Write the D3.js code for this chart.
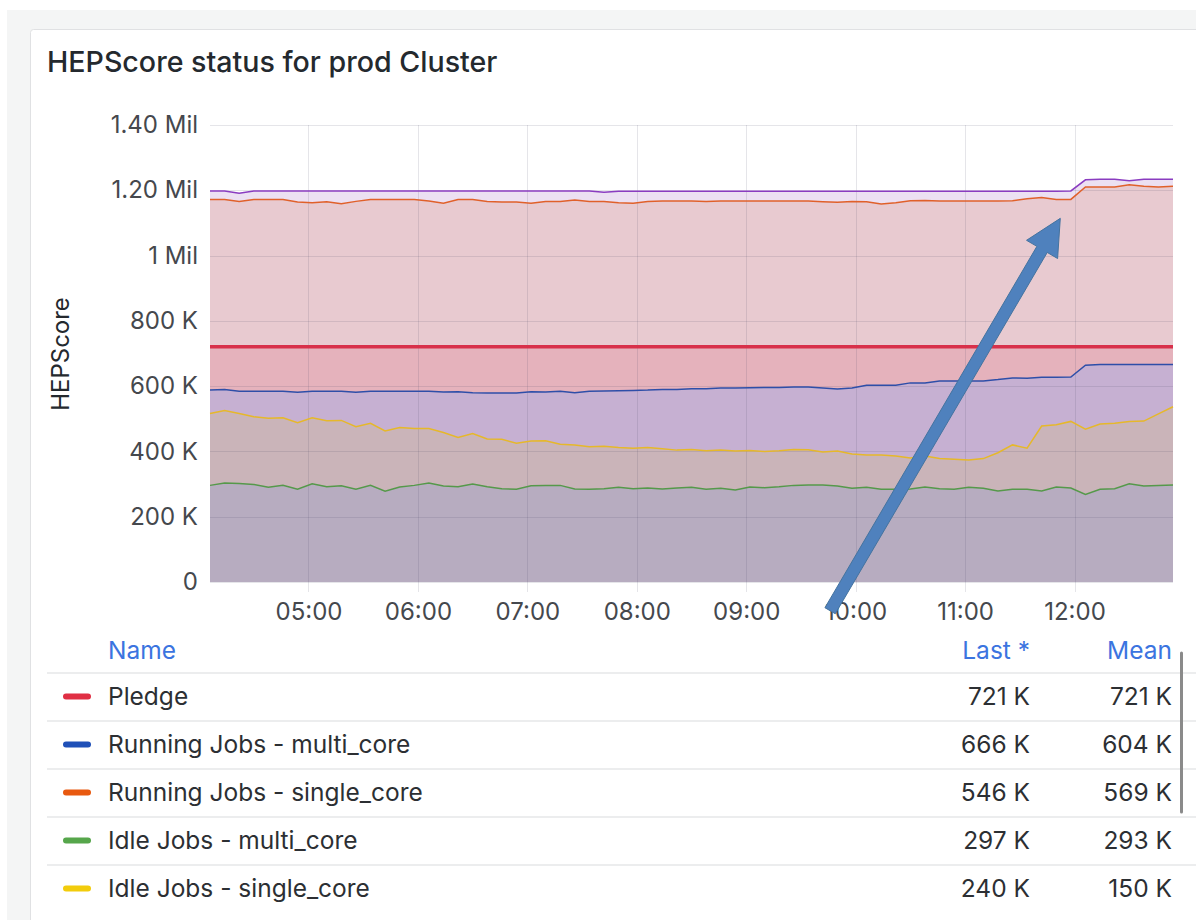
<!DOCTYPE html>
<html>
<head>
<meta charset="utf-8">
<script src="https://cdn.jsdelivr.net/npm/d3@7"></script>
<style>
  body { margin: 0; background: #fff; font-family: Inter, "Noto Sans", sans-serif; }
  svg text { font-family: Inter, "Noto Sans", sans-serif; }
</style>
</head>
<body>
<script>
// samples every 8 minutes starting at 04:06, values in K (HEPScore)
var startTime = new Date(2024, 0, 1, 4, 6);
var stepMinutes = 8;

var idleMulti = [296, 303, 302, 299, 290, 296, 284, 301, 292, 295, 284, 296, 278, 291, 296, 303,
  294, 292, 300, 292, 286, 284, 295, 296, 296, 285, 284, 286, 290, 286, 288, 285, 288, 290, 284,
  287, 282, 291, 289, 292, 296, 297, 297, 294, 287, 290, 284, 284, 285, 291, 286, 284, 290, 287,
  279, 284, 284, 279, 291, 288, 268, 284, 286, 301, 294, 296, 297];

var idleSingle = [220, 222, 214, 207, 212, 207, 204, 202, 202, 200, 192, 190, 185, 182, 174, 167,
  164, 151, 155, 146, 151, 141, 137, 137, 126, 135, 130, 130, 122, 124, 124, 123, 116, 116, 118,
  117, 119, 112, 111, 110, 110, 108, 101, 107, 105, 99, 105, 102, 95, 95, 92, 92, 84, 91,
  117, 136, 126, 199, 191, 204, 200, 200, 200, 191, 199, 219, 240];

var runningMulti = [588, 590, 584, 584, 584, 584, 581, 584, 584, 584, 581, 584, 584, 584, 584, 584,
  582, 583, 580, 579, 579, 579, 583, 582, 584, 580, 584, 585, 586, 587, 588, 590, 590, 592, 592,
  594, 594, 595, 596, 596, 597, 597, 594, 591, 594, 603, 603, 603, 610, 610, 616, 616, 616, 616,
  620, 625, 624, 627, 627, 628, 664, 666, 666, 666, 666, 666, 666];

var runningSingle = [584, 582, 582, 588, 588, 588, 583, 578, 581, 575, 585, 588, 588, 588, 588, 583,
  578, 589, 592, 587, 585, 585, 577, 584, 582, 590, 582, 581, 576, 573, 578, 577, 577, 575, 574,
  573, 573, 572, 571, 571, 570, 570, 571, 572, 572, 562, 555, 559, 558, 559, 551, 551, 551, 551,
  547, 543, 550, 551, 545, 544, 546, 544, 544, 551, 546, 544, 546];

// series hidden below the legend scroll (purple line on top of the stack)
var otherRunning = [26, 26, 25, 26, 26, 26, 34, 36, 33, 39, 32, 26, 26, 26, 26, 31,
  38, 26, 26, 32, 34, 34, 38, 32, 32, 28, 32, 28, 35, 37, 31, 30, 30, 30, 31,
  30, 30, 30, 30, 30, 30, 30, 32, 34, 31, 32, 39, 35, 29, 28, 30, 30, 30, 30,
  30, 29, 23, 19, 25, 26, 22, 24, 24, 12, 22, 24, 22];

var pledgeValue = 721;

var yTicks = [0, 200, 400, 600, 800, 1000, 1200, 1400];
var yTickLabels = ["0", "200 K", "400 K", "600 K", "800 K", "1 Mil", "1.20 Mil", "1.40 Mil"];

var legendNames = ["Pledge", "Running Jobs - multi_core", "Running Jobs - single_core",
  "Idle Jobs - multi_core", "Idle Jobs - single_core"];
var legendColors = ["#e02f44", "#1f50b8", "#e8590f", "#56a64b", "#f2cc0c"];
var legendLast = ["721 K", "666 K", "546 K", "297 K", "240 K"];
var legendMean = ["721 K", "604 K", "569 K", "293 K", "150 K"];

// annotation arrow (time, value)
var arrowFrom = {time: new Date(2024, 0, 1, 9, 46, 0), value: -88};
var arrowTo = {time: new Date(2024, 0, 1, 11, 52, 12), value: 1114};

var W = 1196, H = 920;
var plot = {left: 210, right: 1173, top: 125, bottom: 582};

var rows = idleMulti.map(function(v, i) {
  return {
    time: new Date(+startTime + i * stepMinutes * 60000),
    idleMulti: v,
    idleSingle: idleSingle[i],
    runningMulti: runningMulti[i],
    runningSingle: runningSingle[i],
    otherRunning: otherRunning[i]
  };
});

var x = d3.scaleTime()
  .domain([new Date(2024, 0, 1, 4, 6), new Date(2024, 0, 1, 12, 54)])
  .range([plot.left, plot.right]);
var y = d3.scaleLinear()
  .domain([0, 1400])
  .range([plot.bottom, plot.top]);

var idleStack = d3.stack().keys(["idleMulti", "idleSingle"])(rows);
var runStack = d3.stack().keys(["runningMulti", "runningSingle", "otherRunning"])(rows);

var svg = d3.select("body").append("svg")
  .attr("width", W)
  .attr("height", H);

// page + panel background
svg.append("rect").attr("x", 7).attr("y", 10).attr("width", W).attr("height", H)
  .attr("fill", "#f4f5f5");
svg.append("rect").attr("x", 30.5).attr("y", 29.5).attr("width", W).attr("height", H)
  .attr("rx", 3).attr("fill", "#fff").attr("stroke", "#e0e1e3");

svg.append("text")
  .attr("x", 47).attr("y", 72)
  .attr("font-size", 28.6).attr("font-weight", 500).attr("fill", "#24292e")
  .text("HEPScore status for prod Cluster");

// filled bands
function band(layer, lo, hi) {
  return d3.area()
    .x(function(d) { return x(d.data.time); })
    .y0(lo ? lo : function(d) { return y(d[0]); })
    .y1(hi ? hi : function(d) { return y(d[1]); })(layer);
}
var pledgeY = function() { return y(pledgeValue); };

var bands = svg.append("g");
bands.append("path").attr("d", band(runStack[0])).attr("fill", "#c6b0d2");
bands.append("path").attr("d", band(idleStack[1])).attr("fill", "#cab4b9");
bands.append("path").attr("d", band(idleStack[0])).attr("fill", "#b7acc0");
bands.append("path").attr("d", band(runStack[0], function(d) { return y(d[1]); }, pledgeY)).attr("fill", "#e5b2bc");
bands.append("path").attr("d", band(runStack[1], pledgeY, null)).attr("fill", "#e8cad0");
bands.append("path").attr("d", band(runStack[2])).attr("fill", "#ece0f2");

// grid
var grid = svg.append("g").attr("stroke", "rgba(70,70,100,0.14)").attr("stroke-width", 1);
grid.selectAll(".h").data(yTicks).enter().append("line")
  .attr("x1", plot.left).attr("x2", plot.right)
  .attr("y1", function(d) { return Math.round(y(d)) + 0.5; })
  .attr("y2", function(d) { return Math.round(y(d)) + 0.5; });
var hourTicks = x.ticks(d3.timeHour.every(1));
grid.selectAll(".v").data(hourTicks).enter().append("line")
  .attr("y1", plot.top).attr("y2", plot.bottom + 10)
  .attr("x1", function(d) { return Math.round(x(d)) + 0.5; })
  .attr("x2", function(d) { return Math.round(x(d)) + 0.5; });

// series lines
function topLine(layer) {
  return d3.line()
    .x(function(d) { return x(d.data.time); })
    .y(function(d) { return y(d[1]); })(layer);
}
var lines = svg.append("g").attr("fill", "none").attr("stroke-width", 1.5);
lines.append("path").attr("d", topLine(idleStack[0])).attr("stroke", "#55994a");
lines.append("path").attr("d", topLine(idleStack[1])).attr("stroke", "#e6b82a");
lines.append("path").attr("d", topLine(runStack[0])).attr("stroke", "#2e4ea8");
lines.append("path").attr("d", topLine(runStack[1])).attr("stroke", "#e0602a");
lines.append("path").attr("d", topLine(runStack[2])).attr("stroke", "#8a3cc0");
lines.append("line")
  .attr("x1", plot.left).attr("x2", plot.right)
  .attr("y1", y(pledgeValue)).attr("y2", y(pledgeValue))
  .attr("stroke", "#d8304a").attr("stroke-width", 3.5);

// axes
var yAxis = svg.append("g")
  .attr("transform", "translate(" + plot.left + ",0)")
  .call(d3.axisLeft(y).tickValues(yTicks).tickSize(0).tickPadding(12)
    .tickFormat(function(d, i) { return yTickLabels[i]; }));
var xAxis = svg.append("g")
  .attr("transform", "translate(0," + plot.bottom + ")")
  .call(d3.axisBottom(x).ticks(d3.timeHour.every(1)).tickSize(0).tickPadding(21)
    .tickFormat(d3.timeFormat("%H:%M")));
[yAxis, xAxis].forEach(function(a) {
  a.select(".domain").remove();
  a.selectAll("text").attr("font-size", 24).attr("fill", "#45484d")
    .style("font-family", "Inter, sans-serif");
});

svg.append("text")
  .attr("transform", "translate(61,354) rotate(-90)")
  .attr("text-anchor", "middle").attr("dy", "0.35em")
  .attr("font-size", 24).attr("fill", "#24292e")
  .text("HEPScore");

// legend table
var fs = 24.5;
var legend = svg.append("g");
var headY = 650, rowY = 696.5, rowStep = 48;
legend.append("text").attr("x", 108).attr("y", headY).attr("dy", "0.35em")
  .attr("font-size", fs).attr("fill", "#3b74e0").text("Name");
legend.append("text").attr("x", 1030).attr("y", headY).attr("dy", "0.35em")
  .attr("text-anchor", "end").attr("font-size", fs).attr("fill", "#3b74e0").text("Last *");
legend.append("text").attr("x", 1172).attr("y", headY).attr("dy", "0.35em")
  .attr("text-anchor", "end").attr("font-size", fs).attr("fill", "#3b74e0").text("Mean");

var row = legend.selectAll(".row").data(legendNames).enter().append("g")
  .attr("transform", function(d, i) { return "translate(0," + (rowY + i * rowStep) + ")"; });
row.append("line")
  .attr("x1", 47).attr("x2", W).attr("y1", -23.5).attr("y2", -23.5)
  .attr("stroke", "#e6e7e9").attr("stroke-width", 1.5);
row.append("line")
  .attr("x1", 66).attr("x2", 88).attr("y1", 0).attr("y2", 0)
  .attr("stroke", function(d, i) { return legendColors[i]; })
  .attr("stroke-width", 6).attr("stroke-linecap", "round");
row.append("text").attr("x", 108).attr("dy", "0.35em")
  .attr("font-size", fs).attr("fill", "#2c2f33").text(function(d) { return d; });
row.append("text").attr("x", 1030).attr("dy", "0.35em").attr("text-anchor", "end")
  .attr("font-size", fs).attr("fill", "#2c2f33").text(function(d, i) { return legendLast[i]; });
row.append("text").attr("x", 1172).attr("dy", "0.35em").attr("text-anchor", "end")
  .attr("font-size", fs).attr("fill", "#2c2f33").text(function(d, i) { return legendMean[i]; });

// scrollbar
svg.append("line").attr("x1", 1181.5).attr("x2", 1181.5).attr("y1", 653).attr("y2", 812)
  .attr("stroke", "#8a8a8a").attr("stroke-width", 3).attr("stroke-linecap", "round");

// annotation arrow
var p0 = [x(arrowFrom.time), y(arrowFrom.value)];
var p1 = [x(arrowTo.time), y(arrowTo.value)];
var dx = p1[0] - p0[0], dy = p1[1] - p0[1];
var len = Math.sqrt(dx * dx + dy * dy);
var u = [dx / len, dy / len], n = [-u[1], u[0]];
var headLen = 36, headHalf = 18, shaftHalf = 6;
var base = [p1[0] - u[0] * headLen, p1[1] - u[1] * headLen];
function off(p, k) { return [p[0] + n[0] * k, p[1] + n[1] * k]; }
var arrowPts = [off(p0, shaftHalf), off(base, shaftHalf), off(base, headHalf), p1,
  off(base, -headHalf), off(base, -shaftHalf), off(p0, -shaftHalf)];
svg.append("path")
  .attr("d", d3.line()(arrowPts) + "Z")
  .attr("fill", "#4f81bd").attr("stroke", "#44739f").attr("stroke-width", 1)
  .attr("stroke-linejoin", "miter");
</script>
</body>
</html>
